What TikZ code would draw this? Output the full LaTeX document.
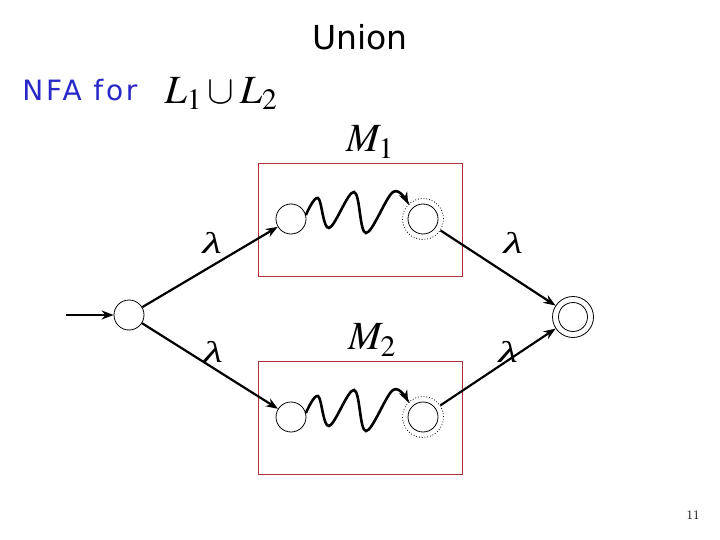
\documentclass[tikz,border=0pt]{standalone}
\usepackage{mathptmx}
\usepackage{fontspec}
\newfontfamily\slidefont{DejaVu Sans}
\newfontfamily\nfafont{DejaVu Sans}[LetterSpace=10]
\newfontfamily\lamfont{Liberation Serif}
\usepackage{tikz}
\usetikzlibrary{arrows.meta}

\definecolor{boxred}{RGB}{176,48,56}
\definecolor{nfablue}{RGB}{40,40,200}

\begin{document}
\begin{tikzpicture}[x=1pt,y=-1pt,
    state/.style={circle,draw,inner sep=0,minimum size=30pt,line width=0.8pt},
    machine/.style={draw=boxred,line width=0.9pt,minimum width=204pt,minimum height=113pt,inner sep=0},
    trans/.style={->, >={Stealth[length=12pt,width=9pt]}, line width=2.2pt},
    lam/.style={inner sep=0,xscale=1.5,transform shape},
    big/.style={font=\fontsize{40}{42}\selectfont}]

    \useasboundingbox (0,0) rectangle (720,540);

    % Titles
    \node[inner sep=0] (title) at (360,37) {\slidefont\fontsize{33}{35}\selectfont Union};
    \node[text=nfablue,inner sep=0] (nfa) at (80,90) {\nfafont\fontsize{28}{30}\selectfont NFA for};
    \node[big,inner sep=0] (lang) at (221,94) {$L_1\cup L_2$};

    % Machines
    \node[machine] (m1) at (360,219.5) {};
    \node[machine] (m2) at (360,417.5) {};
    \node[big,inner sep=0] (m1lab) at (370,142) {$M_1$};
    \node[big,inner sep=0] (m2lab) at (372,340) {$M_2$};

    % States
    \node[state] (q0) at (129,315) {};
    \coordinate (in) at (66,315);

    \node[state] (s1) at (291,219) {};
    \node[state] (f1) at (423,219) {};
    \node[state,dotted,minimum size=41pt] (f1o) at (f1) {};

    \node[state] (s2) at (291,417) {};
    \node[state] (f2) at (423,417) {};
    \node[state,dotted,minimum size=41pt] (f2o) at (f2) {};

    \node[state,minimum size=41pt] (qf) at (573,317) {};
    \node[state,minimum size=29pt] (qfin) at (qf) {};

    % Transitions
    \draw[trans] (in) -- (q0);
    \draw[trans] (q0) -- (s1);
    \draw[trans] (q0) -- (s2);
    \draw[trans] (f1o) -- (qf);
    \draw[trans] (f2o) -- (qf);

    % Paths through the machines
    \draw[trans,line width=2.6pt] plot[smooth,tension=0.6] coordinates {(s1.15) (318,198) (329,228) (354,192) (366,233) (393,192) (f1o.135)};
    \draw[trans,line width=2.6pt] plot[smooth,tension=0.6] coordinates {(s2.15) (318,396) (329,426) (354,390) (366,431) (393,390) (f2o.135)};

    % Lambda labels
    \foreach \x/\y [count=\i] in {212/243, 213/352, 513/243, 508/352}
        \node[lam] (lam\i) at (\x,\y) {\lamfont\itshape\fontsize{30}{32}\selectfont λ};

    % Page number
    \node[font=\fontsize{13}{14}\selectfont,inner sep=0] (page) at (693,515) {11};

\end{tikzpicture}
\end{document}
